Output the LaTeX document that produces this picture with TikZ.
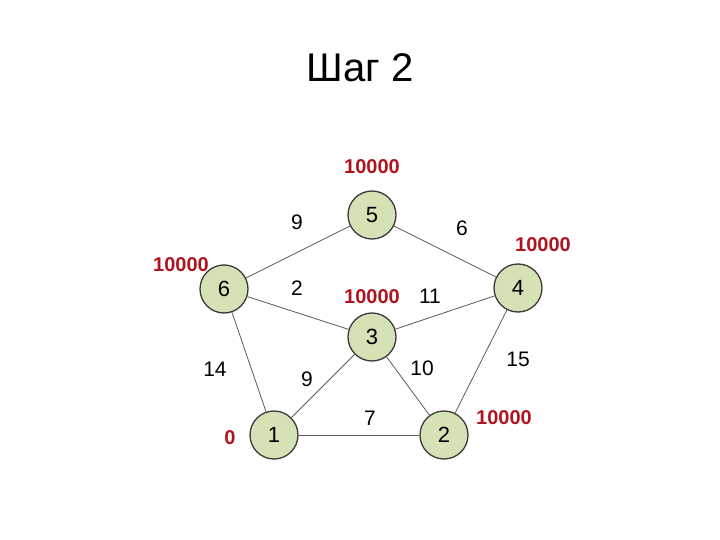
\documentclass[tikz,border=0pt]{standalone}
\usepackage{fontspec}
\setmainfont{Liberation Sans}
\definecolor{nodefill}{HTML}{D5E2B5}
\definecolor{nodeline}{HTML}{3A3A3A}
\definecolor{distred}{HTML}{B0141E}
\definecolor{edgecol}{HTML}{5A5A5A}
\begin{document}
\begin{tikzpicture}[x=1pt,y=-1pt,
  vertex/.style={circle,draw=nodeline,line width=1.3pt,fill=nodefill,minimum size=48pt,inner sep=0pt,font=\fontsize{22}{22}\selectfont},
  edge/.style={draw=edgecol,line width=0.8pt},
  wlabel/.style={font=\fontsize{21}{21}\selectfont,text=black},
  dist/.style={font=\fontsize{20}{20}\selectfont\bfseries,text=distred}]
\useasboundingbox (0,0) rectangle (720,540);
\node[font=\fontsize{40}{40}\selectfont] (title) at (360,68) {Шаг 2};
\node[vertex] (v5) at (372,215) {5};
\node[vertex] (v6) at (224,289) {6};
\node[vertex] (v3) at (372,337) {3};
\node[vertex] (v4) at (518,288) {4};
\node[vertex] (v1) at (274,435) {1};
\node[vertex] (v2) at (444,435) {2};
\draw[edge] (v6) -- (v5);
\draw[edge] (v5) -- (v4);
\draw[edge] (v6) -- (v3);
\draw[edge] (v3) -- (v4);
\draw[edge] (v6) -- (v1);
\draw[edge] (v1) -- (v3);
\draw[edge] (v3) -- (v2);
\draw[edge] (v4) -- (v2);
\draw[edge] (v1) -- (v2);
\node[wlabel] (w65) at (297,222) {9};
\node[wlabel] (w54) at (462,228) {6};
\node[wlabel] (w63) at (297,288) {2};
\node[wlabel] (w34) at (430,296) {11};
\node[wlabel] (w61) at (215,369) {14};
\node[wlabel] (w13) at (307,379) {9};
\node[wlabel] (w32) at (422,368) {10};
\node[wlabel] (w42) at (518,359) {15};
\node[wlabel] (w12) at (370,418) {7};
\node[dist] (d5) at (372,167) {10000};
\node[dist] (d6) at (181,265) {10000};
\node[dist] (d3) at (372,297) {10000};
\node[dist] (d4) at (543,245) {10000};
\node[dist] (d2) at (504,418) {10000};
\node[dist] (d1) at (230,438) {0};
\end{tikzpicture}
\end{document}
